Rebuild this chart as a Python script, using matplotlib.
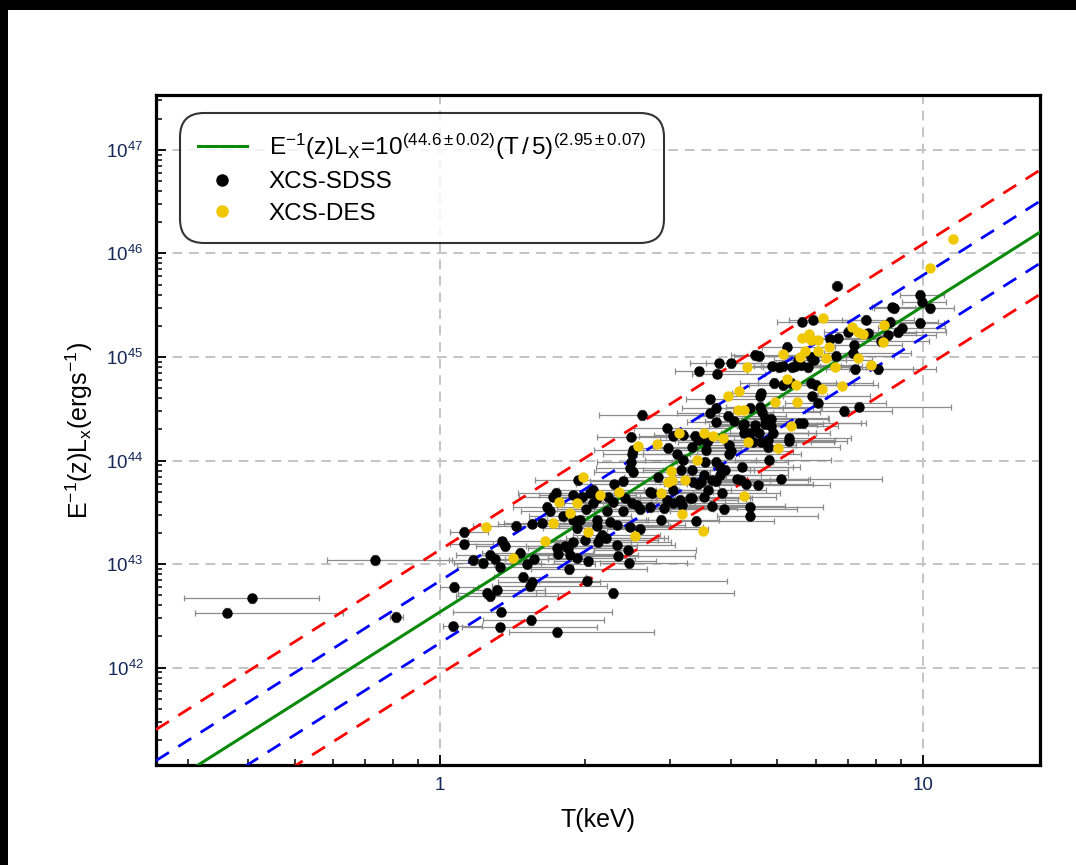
import numpy as np
import matplotlib.pyplot as plt
from matplotlib.patches import Rectangle
from matplotlib.ticker import LogLocator, NullFormatter

plt.rcParams['font.family'] = ['Liberation Sans', 'DejaVu Sans']
plt.rcParams['mathtext.fontset'] = 'custom'
plt.rcParams['mathtext.rm'] = 'Liberation Sans'
plt.rcParams['mathtext.it'] = 'Liberation Sans:italic'
plt.rcParams['mathtext.bf'] = 'Liberation Sans:bold'

# ---- data (log10 T[keV], log10 E^-1(z) Lx [erg/s]) ----
sdss_logT = [
    -0.442, -0.390, -0.135, -0.091, 0.027, 0.029, 0.050, 0.050, 0.068, 0.098,
    0.104, 0.118, 0.125, 0.127, 0.089, 0.104, 0.114, 0.125, 0.129, 0.135,
    0.166, 0.172, 0.181, 0.189, 0.187, 0.191, 0.195, 0.158, 0.191, 0.212,
    0.222, 0.228, 0.241, 0.255, 0.243, 0.243, 0.245, 0.259, 0.266, 0.268,
    0.270, 0.276, 0.276, 0.284, 0.284, 0.286, 0.291, 0.301, 0.303, 0.307,
    0.305, 0.311, 0.317, 0.317, 0.326, 0.326, 0.326, 0.336, 0.332, 0.328,
    0.344, 0.347, 0.349, 0.353, 0.359, 0.359, 0.361, 0.367, 0.367, 0.369,
    0.380, 0.380, 0.384, 0.390, 0.392, 0.394, 0.394, 0.398, 0.400, 0.396,
    0.398, 0.396, 0.400, 0.409, 0.415, 0.415, 0.419, 0.436, 0.436, 0.440,
    0.452, 0.457, 0.465, 0.471, 0.471, 0.473, 0.483, 0.483, 0.483, 0.490,
    0.498, 0.500, 0.502, 0.504, 0.504, 0.517, 0.523, 0.523, 0.525, 0.529,
    0.531, 0.535, 0.537, 0.523, 0.535, 0.540, 0.546, 0.546, 0.550, 0.554,
    0.552, 0.556, 0.556, 0.560, 0.560, 0.564, 0.564, 0.571, 0.571, 0.571,
    0.571, 0.573, 0.577, 0.581, 0.581, 0.585, 0.589, 0.591, 0.596, 0.598,
    0.598, 0.602, 0.602, 0.610, 0.616, 0.623, 0.625, 0.627, 0.629, 0.629,
    0.633, 0.643, 0.643, 0.643, 0.643, 0.649, 0.652, 0.652, 0.658, 0.660,
    0.660, 0.662, 0.664, 0.662, 0.666, 0.668, 0.674, 0.674, 0.679, 0.679,
    0.681, 0.685, 0.685, 0.687, 0.689, 0.691, 0.703, 0.706, 0.710, 0.710,
    0.718, 0.722, 0.724, 0.728, 0.730, 0.735, 0.741, 0.743, 0.747, 0.749,
    0.753, 0.762, 0.768, 0.768, 0.770, 0.772, 0.774, 0.778, 0.784, 0.807,
    0.822, 0.824, 0.820, 0.836, 0.845, 0.855, 0.857, 0.859, 0.869, 0.882,
    0.886, 0.907, 0.913, 0.928, 0.932, 0.936, 0.940, 0.948, 0.957, 0.994,
    0.998, 0.994, 1.015, 0.234, 0.295, 0.276,
]
sdss_logL = [
    42.53, 42.67, 43.04, 42.49, 42.40, 42.78, 43.31, 43.19, 43.04, 42.72,
    42.69, 42.75, 42.39, 42.54, 43.01, 43.09, 43.05, 42.97, 43.22, 43.17,
    43.11, 42.88, 43.00, 42.46, 42.79, 42.83, 43.05, 43.37, 43.39, 43.40,
    43.55, 43.51, 43.69, 43.46, 43.16, 42.34, 43.10, 43.17, 43.16, 42.95,
    43.09, 43.21, 43.43, 43.35, 43.06, 43.81, 43.43, 43.23, 43.53, 43.03,
    42.84, 43.69, 43.72, 43.59, 43.64, 43.43, 43.37, 43.28, 43.25, 43.21,
    43.25, 43.51, 43.65, 43.41, 43.60, 42.72, 43.77, 43.38, 43.18, 43.08,
    43.80, 43.51, 43.64, 43.14, 43.01, 43.36, 43.93, 43.59, 43.89, 44.23,
    44.06, 43.99, 44.10, 43.57, 43.34, 43.53, 44.44, 43.70, 43.55, 43.69,
    43.84, 43.43, 43.54, 44.31, 43.62, 44.12, 44.24, 43.72, 43.59, 44.06,
    43.62, 43.91, 43.57, 44.25, 44.01, 43.64, 43.91, 44.13, 43.79, 44.24,
    43.42, 43.77, 44.86, 43.64, 44.20, 43.79, 43.86, 43.65, 43.99, 44.18,
    44.10, 44.20, 43.72, 44.59, 44.46, 43.81, 43.56, 44.51, 44.37, 43.99,
    43.80, 44.84, 44.94, 43.94, 43.86, 43.69, 43.53, 43.91, 44.43, 44.15,
    44.06, 44.94, 44.09, 44.38, 43.82, 43.81, 43.94, 44.33, 44.35, 44.27,
    43.77, 44.27, 44.51, 43.55, 43.46, 44.18, 45.02, 44.34, 43.76, 45.01,
    44.27, 44.52, 44.65, 44.62, 44.18, 44.47, 44.41, 44.35, 44.20, 44.13,
    44.01, 44.40, 44.33, 44.91, 44.27, 44.75, 44.90, 43.82, 44.91, 44.73,
    45.10, 44.22, 44.19, 44.75, 44.90, 44.91, 44.97, 44.36, 44.92, 45.34,
    44.36, 44.90, 45.00, 44.75, 44.62, 45.36, 44.97, 44.73, 44.56, 45.17,
    45.69, 45.18, 45.01, 44.48, 45.24, 45.04, 45.12, 44.88, 44.52, 45.36,
    45.23, 44.88, 45.15, 45.21, 45.34, 45.48, 45.47, 45.24, 45.28, 45.60,
    45.53, 45.33, 45.47, 43.65, 43.65, 43.67,
]
# temperature error bars, in dex below / above the point
sdss_dlo = [
    0.065, 0.14, 0.10, 0.012, 0.02, 0.03, 0.03, 0.03, 0.05, 0.06,
    0.07, 0.05, 0.08, 0.10, 0.06, 0.07, 0.05, 0.09, 0.07, 0.06,
    0.08, 0.06, 0.07, 0.10, 0.08, 0.07, 0.06, 0.09, 0.07, 0.08,
    0.07, 0.06, 0.08, 0.07, 0.06, 0.10, 0.07, 0.08, 0.06, 0.08,
    0.07, 0.06, 0.08, 0.07, 0.06, 0.09, 0.07, 0.08, 0.06, 0.07,
    0.10, 0.08, 0.07, 0.06, 0.09, 0.07, 0.08, 0.06, 0.07, 0.08,
    0.06, 0.07, 0.08, 0.06, 0.07, 0.16, 0.08, 0.07, 0.06, 0.08,
    0.07, 0.06, 0.08, 0.07, 0.06, 0.08, 0.07, 0.06, 0.08, 0.07,
    0.06, 0.07, 0.08, 0.06, 0.07, 0.08, 0.09, 0.07, 0.06, 0.08,
    0.07, 0.06, 0.08, 0.07, 0.06, 0.08, 0.07, 0.06, 0.08, 0.07,
    0.06, 0.08, 0.07, 0.06, 0.08, 0.07, 0.06, 0.08, 0.07, 0.06,
    0.08, 0.07, 0.05, 0.06, 0.08, 0.07, 0.06, 0.08, 0.07, 0.06,
    0.08, 0.07, 0.06, 0.05, 0.07, 0.06, 0.08, 0.07, 0.06, 0.08,
    0.07, 0.05, 0.06, 0.08, 0.07, 0.06, 0.08, 0.07, 0.06, 0.07,
    0.08, 0.05, 0.07, 0.06, 0.08, 0.07, 0.06, 0.07, 0.06, 0.08,
    0.07, 0.06, 0.07, 0.08, 0.07, 0.06, 0.05, 0.07, 0.08, 0.05,
    0.06, 0.07, 0.06, 0.07, 0.08, 0.06, 0.07, 0.06, 0.07, 0.08,
    0.07, 0.06, 0.07, 0.05, 0.06, 0.07, 0.06, 0.07, 0.06, 0.07,
    0.05, 0.07, 0.06, 0.07, 0.06, 0.07, 0.05, 0.07, 0.06, 0.05,
    0.07, 0.06, 0.05, 0.07, 0.06, 0.05, 0.06, 0.07, 0.07, 0.05,
    0.01, 0.05, 0.06, 0.08, 0.05, 0.06, 0.05, 0.06, 0.08, 0.05,
    0.05, 0.06, 0.05, 0.05, 0.05, 0.04, 0.04, 0.05, 0.05, 0.04,
    0.04, 0.04, 0.03, 0.07, 0.06, 0.07,
]
sdss_dhi = [
    0.24, 0.14, 0.16, 0.014, 0.06, 0.05, 0.05, 0.06, 0.10, 0.12,
    0.14, 0.10, 0.20, 0.23, 0.12, 0.13, 0.11, 0.15, 0.14, 0.12,
    0.15, 0.13, 0.14, 0.15, 0.16, 0.14, 0.12, 0.15, 0.13, 0.14,
    0.13, 0.12, 0.15, 0.14, 0.12, 0.20, 0.13, 0.15, 0.12, 0.16,
    0.14, 0.12, 0.15, 0.13, 0.12, 0.16, 0.14, 0.15, 0.12, 0.14,
    0.29, 0.15, 0.13, 0.12, 0.16, 0.14, 0.15, 0.12, 0.14, 0.15,
    0.12, 0.13, 0.15, 0.12, 0.14, 0.25, 0.15, 0.14, 0.12, 0.16,
    0.14, 0.12, 0.15, 0.14, 0.12, 0.15, 0.13, 0.12, 0.16, 0.14,
    0.12, 0.14, 0.15, 0.12, 0.14, 0.15, 0.16, 0.13, 0.12, 0.15,
    0.14, 0.12, 0.15, 0.13, 0.12, 0.15, 0.14, 0.12, 0.15, 0.13,
    0.12, 0.15, 0.14, 0.12, 0.15, 0.13, 0.12, 0.15, 0.14, 0.12,
    0.16, 0.13, 0.10, 0.12, 0.15, 0.13, 0.12, 0.15, 0.14, 0.12,
    0.15, 0.13, 0.12, 0.10, 0.13, 0.12, 0.15, 0.14, 0.12, 0.15,
    0.13, 0.10, 0.12, 0.15, 0.14, 0.12, 0.15, 0.13, 0.12, 0.14,
    0.15, 0.10, 0.13, 0.12, 0.15, 0.14, 0.12, 0.13, 0.12, 0.15,
    0.14, 0.12, 0.13, 0.15, 0.14, 0.12, 0.10, 0.13, 0.15, 0.10,
    0.12, 0.13, 0.12, 0.14, 0.15, 0.12, 0.13, 0.12, 0.14, 0.15,
    0.13, 0.12, 0.14, 0.10, 0.12, 0.13, 0.12, 0.21, 0.12, 0.13,
    0.10, 0.13, 0.12, 0.13, 0.12, 0.14, 0.10, 0.13, 0.12, 0.10,
    0.13, 0.12, 0.10, 0.13, 0.12, 0.10, 0.12, 0.13, 0.14, 0.10,
    0.01, 0.10, 0.12, 0.10, 0.10, 0.12, 0.10, 0.12, 0.19, 0.10,
    0.10, 0.12, 0.10, 0.10, 0.10, 0.08, 0.08, 0.10, 0.09, 0.05,
    0.05, 0.05, 0.05, 0.14, 0.12, 0.13,
]
sdss_dL = 0.045  # luminosity error, dex

des_logT = [
    1.062, 1.015, 0.919, 0.917, 0.793, 0.853, 0.865, 0.876, 0.764, 0.749,
    0.768, 0.784, 0.805, 0.710, 0.757, 0.784, 0.745, 0.799, 0.867, 0.818,
    0.892, 0.635, 0.718, 0.737, 0.791, 0.832, 0.620, 0.596, 0.695, 0.739,
    0.618, 0.629, 0.728, 0.546, 0.566, 0.587, 0.639, 0.701, 0.496, 0.411,
    0.450, 0.533, 0.479, 0.481, 0.473, 0.508, 0.457, 0.371, 0.332, 0.297,
    0.247, 0.284, 0.270, 0.234, 0.307, 0.405, 0.502, 0.544, 0.629, 0.218,
    0.151, 0.095,
]
des_logL = [
    46.14, 45.86, 45.31, 45.14, 45.38, 45.29, 45.24, 45.22, 45.22, 45.18,
    45.16, 45.16, 45.10, 45.03, 45.06, 45.06, 45.00, 44.99, 44.99, 44.90,
    44.92, 44.90, 44.79, 44.73, 44.69, 44.72, 44.67, 44.62, 44.57, 44.57,
    44.49, 44.49, 44.33, 44.27, 44.24, 44.22, 44.18, 44.12, 44.27, 44.14,
    44.16, 44.01, 43.90, 43.81, 43.79, 43.81, 43.69, 43.70, 43.67, 43.84,
    43.60, 43.59, 43.49, 43.40, 43.31, 43.27, 43.48, 43.32, 43.66, 43.22,
    43.06, 43.36,
]

# best-fit relation  E^-1(z) Lx = 10^norm (T/pivot)^slope, with 1 and 2 sigma bands
fit_norm = 44.6
fit_slope = 2.95
fit_pivot = 5.0
band_inner = 0.3
band_outer = 0.6

y_decades = [42, 43, 44, 45, 46, 47]

# ---- figure ----
fig = plt.figure(figsize=(10.76, 8.65), dpi=100, facecolor='black')
fig.add_artist(Rectangle((8 / 1076, 0), 1, 1 - 10 / 865, transform=fig.transFigure,
                         facecolor='white', edgecolor='none', zorder=-10))
ax = fig.add_axes([156 / 1076, 1 - 765 / 865, 884 / 1076, 670 / 865])

T_s = 10 ** np.array(sdss_logT)
L_s = 10 ** np.array(sdss_logL)
xerr_s = [T_s - 10 ** (np.array(sdss_logT) - np.array(sdss_dlo)),
          10 ** (np.array(sdss_logT) + np.array(sdss_dhi)) - T_s]
yerr_s = [L_s - 10 ** (np.array(sdss_logL) - sdss_dL),
          10 ** (np.array(sdss_logL) + sdss_dL) - L_s]

ax.errorbar(T_s, L_s, xerr=xerr_s, yerr=yerr_s, fmt='none', ecolor='#8c8c8c',
            elinewidth=0.9, capsize=2.5, capthick=0.9, zorder=2)

xlim = (0.258, 17.5)
T_line = np.logspace(np.log10(xlim[0]), np.log10(xlim[1]), 200)
logL_line = fit_norm + fit_slope * np.log10(T_line / fit_pivot)
dash = (0, (5.5, 4))
for off in (band_outer, -band_outer):
    ax.plot(T_line, 10 ** (logL_line + off), color='#ff0000', lw=2.0, ls=dash, zorder=3)
for off in (band_inner, -band_inner):
    ax.plot(T_line, 10 ** (logL_line + off), color='#0000ff', lw=2.0, ls=dash, zorder=3)
ax.plot(T_line, 10 ** logL_line, color='#0a8a0a', lw=2.2, zorder=3,
        label=r'$\mathregular{E^{-1}(z)L_X\!=\!10^{(44.6\pm0.02)}(T\,/\,5)^{(2.95\pm0.07)}}$')

ax.plot(T_s, L_s, 'o', color='black', ms=7.5, mew=0, zorder=4, label='XCS-SDSS')
ax.plot(10 ** np.array(des_logT), 10 ** np.array(des_logL), 'o', color='#f0c800',
        ms=7.5, mew=0, zorder=5, label='XCS-DES')

ax.set_xscale('log')
ax.set_yscale('log')
ax.set_xlim(*xlim)
ax.set_ylim(10 ** 41.06, 10 ** 47.53)

ax.set_xticks([1, 10])
ax.set_xticklabels(['1', '10'])
ax.xaxis.set_minor_locator(LogLocator(base=10, subs=np.arange(2, 10)))
ax.xaxis.set_minor_formatter(NullFormatter())
ax.set_yticks([10.0 ** d for d in y_decades])
ax.set_yticklabels([r'$\mathregular{10^{%d}}$' % d for d in y_decades])
ax.yaxis.set_minor_locator(LogLocator(base=10, subs=np.arange(2, 10), numticks=12))
ax.yaxis.set_minor_formatter(NullFormatter())

tick_col = '#14285a'
ax.tick_params(which='major', direction='in', length=7, width=1.3, labelsize=13.5,
               labelcolor=tick_col, pad=9, top=False, right=False)
ax.tick_params(which='minor', direction='in', length=4, width=1.1, top=False, right=False)
for sp in ax.spines.values():
    sp.set_linewidth(2.3)

ax.grid(which='major', color='#c4c4c4', ls=(0, (5, 3.5)), lw=1.4, zorder=0)
ax.set_axisbelow(True)

ax.set_xlabel('T(keV)', fontsize=18, labelpad=10)
ax.set_ylabel(r'$\mathregular{E^{-1}(z)L_x(ergs^{-1})}$', fontsize=18, labelpad=8)

leg = ax.legend(loc='upper left', bbox_to_anchor=(0.027, 0.973), borderaxespad=0,
                fontsize=17.5, frameon=True, fancybox=True, handlelength=2.0,
                labelspacing=0.4, borderpad=0.75, handletextpad=0.9, markerscale=1.2)
leg.get_frame().set_edgecolor('black')
leg.get_frame().set_linewidth(1.5)
leg.get_frame().set_boxstyle('round', pad=0, rounding_size=1.0)

fig.savefig('out.png', dpi=100, facecolor=fig.get_facecolor())
